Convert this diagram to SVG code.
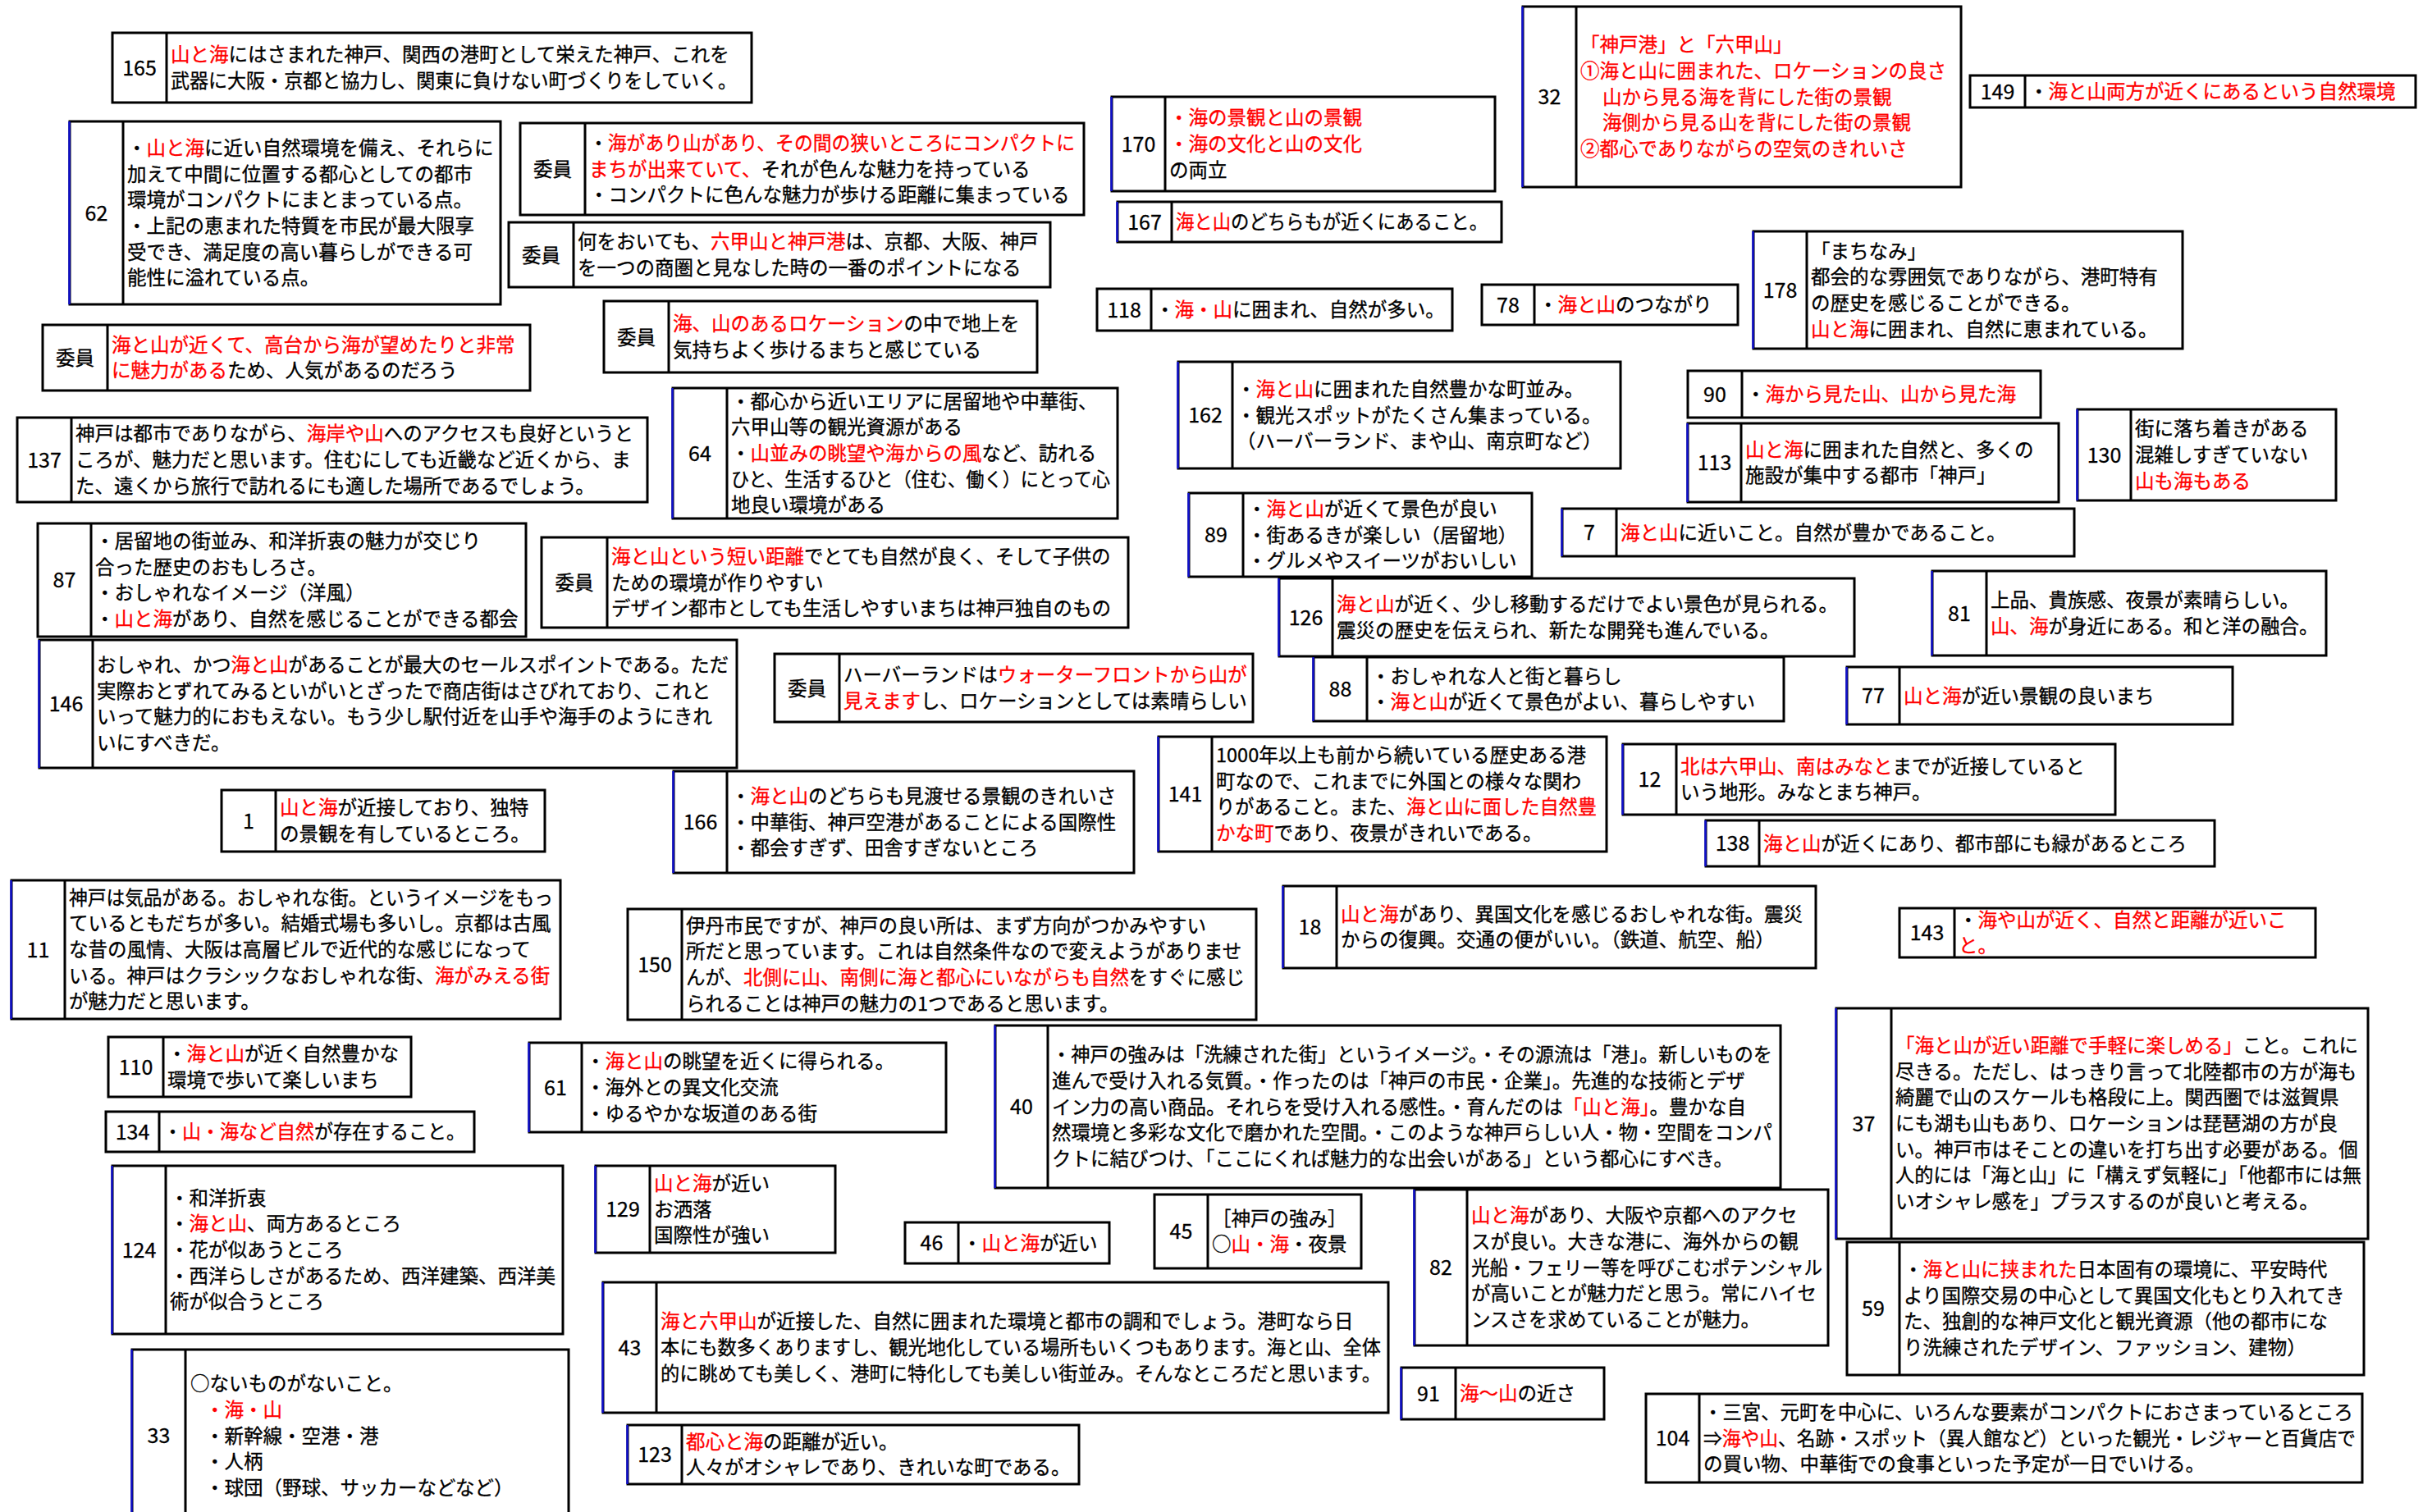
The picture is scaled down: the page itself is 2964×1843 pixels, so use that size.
<svg xmlns="http://www.w3.org/2000/svg" width="2964" height="1843" viewBox="0 0 2964 1843">
<style>
.bx{fill:#fff;stroke:#000;stroke-width:3}
.dv{stroke:#000;stroke-width:3}
.bl{stroke:#1010d0;stroke-width:2.5}
text{font-family:"Noto Sans CJK JP","Noto Sans CJK SC",sans-serif;font-size:23.5px;fill:#000;stroke:#000;stroke-width:0.3}
.n{font-size:25px;text-anchor:middle}
.r{fill:#ff0000;stroke:#ff0000}
</style>
<rect x="0" y="0" width="2964" height="1843" fill="#fff"/>
<g id="connectors"></g>

<g id="n165"><rect class="bx" x="137" y="40" width="779" height="85"/><line class="dv" x1="203" y1="40" x2="203" y2="125"/><text class="n" x="170" y="91.5">165</text>
<text x="208" y="75.2"><tspan class="r">山と海</tspan>にはさまれた神戸、関西の港町として栄えた神戸、これを</text>
<text x="208" y="106.9" textLength="690" lengthAdjust="spacingAndGlyphs">武器に大阪・京都と協力し、関東に負けない町づくりをしていく。</text></g>

<g id="n62"><rect class="bx" x="85" y="148" width="525" height="223"/><line class="dv" x1="150" y1="148" x2="150" y2="371"/><line class="bl" x1="84.5" y1="148" x2="84.5" y2="371"/><text class="n" x="117.5" y="268.5">62</text>
<text x="155" y="188.8">・<tspan class="r">山と海</tspan>に近い自然環境を備え、それらに</text>
<text x="155" y="220.5">加えて中間に位置する都心としての都市</text>
<text x="155" y="252.2">環境がコンパクトにまとまっている点。</text>
<text x="155" y="283.9">・上記の恵まれた特質を市民が最大限享</text>
<text x="155" y="315.6">受でき、満足度の高い暮らしができる可</text>
<text x="155" y="347.3">能性に溢れている点。</text></g>

<g id="iinB"><rect class="bx" x="634" y="150" width="687" height="112"/><line class="dv" x1="713" y1="150" x2="713" y2="262"/><text class="n" x="673.5" y="215" style="font-size:23.5px">委員</text>
<text x="718" y="182.8" textLength="592" lengthAdjust="spacingAndGlyphs">・<tspan class="r">海があり山があり、その間の狭いところにコンパクトに</tspan></text>
<text x="718" y="214.5"><tspan class="r">まちが出来ていて、</tspan>それが色んな魅力を持っている</text>
<text x="718" y="246.2">・コンパクトに色んな魅力が歩ける距離に集まっている</text></g>

<g id="iinC"><rect class="bx" x="620" y="271" width="660" height="79"/><line class="dv" x1="699" y1="271" x2="699" y2="350"/><text class="n" x="659.5" y="319.5" style="font-size:23.5px">委員</text>
<text x="704" y="303.2">何をおいても、<tspan class="r">六甲山と神戸港</tspan>は、京都、大阪、神戸</text>
<text x="704" y="334.9">を一つの商圏と見なした時の一番のポイントになる</text></g>

<g id="iinA"><rect class="bx" x="52" y="396" width="594" height="80"/><line class="dv" x1="131" y1="396" x2="131" y2="476"/><text class="n" x="91.5" y="445" style="font-size:23.5px">委員</text>
<text x="136" y="428.7"><tspan class="r">海と山が近くて、高台から海が望めたりと非常</tspan></text>
<text x="136" y="460.4"><tspan class="r">に魅力がある</tspan>ため、人気があるのだろう</text></g>

<g id="iinD"><rect class="bx" x="736" y="367" width="528" height="87"/><line class="dv" x1="815" y1="367" x2="815" y2="454"/><text class="n" x="775.5" y="419.5" style="font-size:23.5px">委員</text>
<text x="820" y="403.2"><tspan class="r">海、山のあるロケーション</tspan>の中で地上を</text>
<text x="820" y="434.9">気持ちよく歩けるまちと感じている</text></g>

<g id="n137"><rect class="bx" x="21" y="509" width="768" height="103"/><line class="dv" x1="87" y1="509" x2="87" y2="612"/><text class="n" x="54" y="569.5">137</text>
<text x="92" y="537.3">神戸は都市でありながら、<tspan class="r">海岸や山</tspan>へのアクセスも良好というと</text>
<text x="92" y="569">ころが、魅力だと思います。住むにしても近畿など近くから、ま</text>
<text x="92" y="600.7">た、遠くから旅行で訪れるにも適した場所であるでしょう。</text></g>

<g id="n170"><rect class="bx" x="1355" y="118" width="467" height="115"/><line class="dv" x1="1420" y1="118" x2="1420" y2="233"/><line class="bl" x1="1354.5" y1="118" x2="1354.5" y2="233"/><text class="n" x="1387.5" y="184.5">170</text>
<text x="1425" y="152.3"><tspan class="r">・海の景観と山の景観</tspan></text>
<text x="1425" y="184"><tspan class="r">・海の文化と山の文化</tspan></text>
<text x="1425" y="215.7">の両立</text></g>

<g id="n167"><rect class="bx" x="1362" y="246" width="468" height="49"/><line class="dv" x1="1428" y1="246" x2="1428" y2="295"/><line class="bl" x1="1361.5" y1="246" x2="1361.5" y2="295"/><text class="n" x="1395" y="279.5">167</text>
<text x="1433" y="279" textLength="380" lengthAdjust="spacingAndGlyphs"><tspan class="r">海と山</tspan>のどちらもが近くにあること。</text></g>

<g id="n118"><rect class="bx" x="1337" y="352" width="433" height="51"/><line class="dv" x1="1403" y1="352" x2="1403" y2="403"/><text class="n" x="1370" y="386.5">118</text>
<text x="1408" y="386">・<tspan class="r">海・山</tspan>に囲まれ、自然が多い。</text></g>

<g id="n32"><rect class="bx" x="1856" y="8" width="534" height="220"/><line class="dv" x1="1921" y1="8" x2="1921" y2="228"/><line class="bl" x1="1855.5" y1="8" x2="1855.5" y2="228"/><text class="n" x="1888.5" y="127">32</text>
<text x="1926" y="63.1" class="r">「神戸港」と「六甲山」</text>
<text x="1926" y="94.8" class="r">①海と山に囲まれた、ロケーションの良さ</text>
<text x="1953" y="126.5" class="r">山から見る海を背にした街の景観</text>
<text x="1953" y="158.2" class="r">海側から見る山を背にした街の景観</text>
<text x="1926" y="189.9" class="r">②都心でありながらの空気のきれいさ</text></g>

<g id="n149"><rect class="bx" x="2401" y="92" width="543" height="39"/><line class="dv" x1="2468" y1="92" x2="2468" y2="131"/><text class="n" x="2434.5" y="120.5">149</text>
<text x="2473" y="120">・<tspan class="r">海と山両方が近くにあるという自然環境</tspan></text></g>

<g id="n78"><rect class="bx" x="1806" y="347" width="312" height="49"/><line class="dv" x1="1870" y1="347" x2="1870" y2="396"/><text class="n" x="1838" y="380.5">78</text>
<text x="1875" y="380">・<tspan class="r">海と山</tspan>のつながり</text></g>

<g id="n178"><rect class="bx" x="2137" y="282" width="523" height="143"/><line class="dv" x1="2202" y1="282" x2="2202" y2="425"/><line class="bl" x1="2136.5" y1="282" x2="2136.5" y2="425"/><text class="n" x="2169.5" y="362.5">178</text>
<text x="2207" y="314.5">「まちなみ」</text>
<text x="2207" y="346.2">都会的な雰囲気でありながら、港町特有</text>
<text x="2207" y="377.9">の歴史を感じることができる。</text>
<text x="2207" y="409.6"><tspan class="r">山と海</tspan>に囲まれ、自然に恵まれている。</text></g>

<g id="n162"><rect class="bx" x="1436" y="441" width="539" height="130"/><line class="dv" x1="1502" y1="441" x2="1502" y2="571"/><line class="bl" x1="1435.5" y1="441" x2="1435.5" y2="571"/><text class="n" x="1469" y="515">162</text>
<text x="1507" y="482.8">・<tspan class="r">海と山</tspan>に囲まれた自然豊かな町並み。</text>
<text x="1507" y="514.5">・観光スポットがたくさん集まっている。</text>
<text x="1507" y="546.2">（ハーバーランド、まや山、南京町など）</text></g>

<g id="n90"><rect class="bx" x="2057" y="452" width="430" height="57"/><line class="dv" x1="2123" y1="452" x2="2123" y2="509"/><text class="n" x="2090" y="489.5">90</text>
<text x="2128" y="489">・<tspan class="r">海から見た山、山から見た海</tspan></text></g>

<g id="n113"><rect class="bx" x="2057" y="516" width="452" height="96"/><line class="dv" x1="2122" y1="516" x2="2122" y2="612"/><line class="bl" x1="2056.5" y1="516" x2="2056.5" y2="612"/><text class="n" x="2089.5" y="573">113</text>
<text x="2127" y="556.7"><tspan class="r">山と海</tspan>に囲まれた自然と、多くの</text>
<text x="2127" y="588.4">施設が集中する都市「神戸」</text></g>

<g id="n130"><rect class="bx" x="2532" y="499" width="315" height="111"/><line class="dv" x1="2597" y1="499" x2="2597" y2="610"/><line class="bl" x1="2531.5" y1="499" x2="2531.5" y2="610"/><text class="n" x="2564.5" y="563.5">130</text>
<text x="2602" y="531.3">街に落ち着きがある</text>
<text x="2602" y="563">混雑しすぎていない</text>
<text x="2602" y="594.7" class="r">山も海もある</text></g>

<g id="n64"><rect class="bx" x="820" y="473" width="542" height="159"/><line class="dv" x1="886" y1="473" x2="886" y2="632"/><line class="bl" x1="819.5" y1="473" x2="819.5" y2="632"/><text class="n" x="853" y="561.5">64</text>
<text x="891" y="497.6">・都心から近いエリアに居留地や中華街、</text>
<text x="891" y="529.3">六甲山等の観光資源がある</text>
<text x="891" y="561">・<tspan class="r">山並みの眺望や海からの風</tspan>など、訪れる</text>
<text x="891" y="592.7" textLength="462" lengthAdjust="spacingAndGlyphs">ひと、生活するひと（住む、働く）にとって心</text>
<text x="891" y="624.4">地良い環境がある</text></g>

<g id="n89"><rect class="bx" x="1449" y="601" width="418" height="102"/><line class="dv" x1="1515" y1="601" x2="1515" y2="703"/><line class="bl" x1="1448.5" y1="601" x2="1448.5" y2="703"/><text class="n" x="1482" y="661">89</text>
<text x="1520" y="628.8">・<tspan class="r">海と山</tspan>が近くて景色が良い</text>
<text x="1520" y="660.5">・街あるきが楽しい（居留地）</text>
<text x="1520" y="692.2">・グルメやスイーツがおいしい</text></g>

<g id="n7"><rect class="bx" x="1904" y="620" width="624" height="58"/><line class="dv" x1="1970" y1="620" x2="1970" y2="678"/><line class="bl" x1="1903.5" y1="620" x2="1903.5" y2="678"/><text class="n" x="1937" y="658">7</text>
<text x="1975" y="657.5"><tspan class="r">海と山</tspan>に近いこと。自然が豊かであること。</text></g>

<g id="n126"><rect class="bx" x="1559" y="705" width="701" height="95"/><line class="dv" x1="1624" y1="705" x2="1624" y2="800"/><line class="bl" x1="1558.5" y1="705" x2="1558.5" y2="800"/><text class="n" x="1591.5" y="761.5">126</text>
<text x="1629" y="745.2"><tspan class="r">海と山</tspan>が近く、少し移動するだけでよい景色が見られる。</text>
<text x="1629" y="776.9">震災の歴史を伝えられ、新たな開発も進んでいる。</text></g>

<g id="n81"><rect class="bx" x="2355" y="696" width="480" height="103"/><line class="dv" x1="2421" y1="696" x2="2421" y2="799"/><line class="bl" x1="2354.5" y1="696" x2="2354.5" y2="799"/><text class="n" x="2388" y="756.5">81</text>
<text x="2426" y="740.2">上品、貴族感、夜景が素晴らしい。</text>
<text x="2426" y="771.9"><tspan class="r">山、海</tspan>が身近にある。和と洋の融合。</text></g>

<g id="n88"><rect class="bx" x="1601" y="801" width="573" height="78"/><line class="dv" x1="1666" y1="801" x2="1666" y2="879"/><line class="bl" x1="1600.5" y1="801" x2="1600.5" y2="879"/><text class="n" x="1633.5" y="849">88</text>
<text x="1671" y="832.7">・おしゃれな人と街と暮らし</text>
<text x="1671" y="864.4">・<tspan class="r">海と山</tspan>が近くて景色がよい、暮らしやすい</text></g>

<g id="n77"><rect class="bx" x="2251" y="813" width="470" height="70"/><line class="dv" x1="2315" y1="813" x2="2315" y2="883"/><line class="bl" x1="2250.5" y1="813" x2="2250.5" y2="883"/><text class="n" x="2283" y="857">77</text>
<text x="2320" y="856.5"><tspan class="r">山と海</tspan>が近い景観の良いまち</text></g>

<g id="n87"><rect class="bx" x="46" y="638" width="595" height="138"/><line class="dv" x1="111" y1="638" x2="111" y2="776"/><text class="n" x="78.5" y="716">87</text>
<text x="116" y="668">・居留地の街並み、和洋折衷の魅力が交じり</text>
<text x="116" y="699.7">合った歴史のおもしろさ。</text>
<text x="116" y="731.4">・おしゃれなイメージ（洋風）</text>
<text x="116" y="763.1">・<tspan class="r">山と海</tspan>があり、自然を感じることができる都会</text></g>

<g id="iinF"><rect class="bx" x="660" y="655" width="715" height="110"/><line class="dv" x1="740" y1="655" x2="740" y2="765"/><text class="n" x="700" y="719" style="font-size:23.5px">委員</text>
<text x="745" y="686.8"><tspan class="r">海と山という短い距離</tspan>でとても自然が良く、そして子供の</text>
<text x="745" y="718.5">ための環境が作りやすい</text>
<text x="745" y="750.2">デザイン都市としても生活しやすいまちは神戸独自のもの</text></g>

<g id="n146"><rect class="bx" x="48" y="780" width="850" height="156"/><line class="dv" x1="113" y1="780" x2="113" y2="936"/><line class="bl" x1="47.5" y1="780" x2="47.5" y2="936"/><text class="n" x="80.5" y="867">146</text>
<text x="118" y="819" textLength="770" lengthAdjust="spacingAndGlyphs">おしゃれ、かつ<tspan class="r">海と山</tspan>があることが最大のセールスポイントである。ただ</text>
<text x="118" y="850.7">実際おとずれてみるといがいとざったで商店街はさびれており、これと</text>
<text x="118" y="882.4">いって魅力的におもえない。もう少し駅付近を山手や海手のようにきれ</text>
<text x="118" y="914.1">いにすべきだ。</text></g>

<g id="iinE"><rect class="bx" x="944" y="797" width="583" height="83"/><line class="dv" x1="1023" y1="797" x2="1023" y2="880"/><text class="n" x="983.5" y="847.5" style="font-size:23.5px">委員</text>
<text x="1028" y="831.2">ハーバーランドは<tspan class="r">ウォーターフロントから山が</tspan></text>
<text x="1028" y="862.9"><tspan class="r">見えます</tspan>し、ロケーションとしては素晴らしい</text></g>

<g id="n141"><rect class="bx" x="1412" y="898" width="546" height="140"/><line class="dv" x1="1477" y1="898" x2="1477" y2="1038"/><line class="bl" x1="1411.5" y1="898" x2="1411.5" y2="1038"/><text class="n" x="1444.5" y="977">141</text>
<text x="1482" y="929">1000年以上も前から続いている歴史ある港</text>
<text x="1482" y="960.7">町なので、これまでに外国との様々な関わ</text>
<text x="1482" y="992.4" textLength="464" lengthAdjust="spacingAndGlyphs">りがあること。また、<tspan class="r">海と山に面した自然豊</tspan></text>
<text x="1482" y="1024.1"><tspan class="r">かな町</tspan>であり、夜景がきれいである。</text></g>

<g id="n12"><rect class="bx" x="1978" y="907" width="600" height="86"/><line class="dv" x1="2043" y1="907" x2="2043" y2="993"/><line class="bl" x1="1977.5" y1="907" x2="1977.5" y2="993"/><text class="n" x="2010.5" y="959">12</text>
<text x="2048" y="942.7"><tspan class="r">北は六甲山、南はみなと</tspan>までが近接していると</text>
<text x="2048" y="974.4">いう地形。みなとまち神戸。</text></g>

<g id="n138"><rect class="bx" x="2079" y="1000" width="620" height="56"/><line class="dv" x1="2144" y1="1000" x2="2144" y2="1056"/><line class="bl" x1="2078.5" y1="1000" x2="2078.5" y2="1056"/><text class="n" x="2111.5" y="1037">138</text>
<text x="2149" y="1036.5"><tspan class="r">海と山</tspan>が近くにあり、都市部にも緑があるところ</text></g>

<g id="n1"><rect class="bx" x="270" y="963" width="394" height="75"/><line class="dv" x1="336" y1="963" x2="336" y2="1038"/><text class="n" x="303" y="1009.5">1</text>
<text x="341" y="993.2"><tspan class="r">山と海</tspan>が近接しており、独特</text>
<text x="341" y="1024.9">の景観を有しているところ。</text></g>

<g id="n166"><rect class="bx" x="821" y="940" width="561" height="124"/><line class="dv" x1="886" y1="940" x2="886" y2="1064"/><line class="bl" x1="820.5" y1="940" x2="820.5" y2="1064"/><text class="n" x="853.5" y="1011">166</text>
<text x="891" y="978.8">・<tspan class="r">海と山</tspan>のどちらも見渡せる景観のきれいさ</text>
<text x="891" y="1010.5">・中華街、神戸空港があることによる国際性</text>
<text x="891" y="1042.2">・都会すぎず、田舎すぎないところ</text></g>

<g id="n11"><rect class="bx" x="14" y="1073" width="669" height="169"/><line class="dv" x1="79" y1="1073" x2="79" y2="1242"/><line class="bl" x1="13.5" y1="1073" x2="13.5" y2="1242"/><text class="n" x="46.5" y="1166.5">11</text>
<text x="84" y="1102.6" textLength="590" lengthAdjust="spacingAndGlyphs">神戸は気品がある。おしゃれな街。というイメージをもっ</text>
<text x="84" y="1134.3">ているともだちが多い。結婚式場も多いし。京都は古風</text>
<text x="84" y="1166">な昔の風情、大阪は高層ビルで近代的な感じになって</text>
<text x="84" y="1197.7">いる。神戸はクラシックなおしゃれな街、<tspan class="r">海がみえる街</tspan></text>
<text x="84" y="1229.4">が魅力だと思います。</text></g>

<g id="n150"><rect class="bx" x="765" y="1108" width="766" height="135"/><line class="dv" x1="831" y1="1108" x2="831" y2="1243"/><text class="n" x="798" y="1184.5">150</text>
<text x="836" y="1136.5">伊丹市民ですが、神戸の良い所は、まず方向がつかみやすい</text>
<text x="836" y="1168.2">所だと思っています。これは自然条件なので変えようがありませ</text>
<text x="836" y="1199.9">んが、<tspan class="r">北側に山、南側に海と都心にいながらも自然</tspan>をすぐに感じ</text>
<text x="836" y="1231.6">られることは神戸の魅力の1つであると思います。</text></g>

<g id="n18"><rect class="bx" x="1564" y="1080" width="649" height="100"/><line class="dv" x1="1629" y1="1080" x2="1629" y2="1180"/><line class="bl" x1="1563.5" y1="1080" x2="1563.5" y2="1180"/><text class="n" x="1596.5" y="1139">18</text>
<text x="1634" y="1122.7"><tspan class="r">山と海</tspan>があり、異国文化を感じるおしゃれな街。震災</text>
<text x="1634" y="1154.4">からの復興。交通の便がいい。（鉄道、航空、船）</text></g>

<g id="n143"><rect class="bx" x="2315" y="1107" width="507" height="60"/><line class="dv" x1="2382" y1="1107" x2="2382" y2="1167"/><text class="n" x="2348.5" y="1146">143</text>
<text x="2387" y="1129.7">・<tspan class="r">海や山が近く、自然と距離が近いこ</tspan></text>
<text x="2387" y="1161.4"><tspan class="r">と。</tspan></text></g>

<g id="n110"><rect class="bx" x="132" y="1264" width="369" height="73"/><line class="dv" x1="199" y1="1264" x2="199" y2="1337"/><text class="n" x="165.5" y="1309.5">110</text>
<text x="204" y="1293.2">・<tspan class="r">海と山</tspan>が近く自然豊かな</text>
<text x="204" y="1324.9">環境で歩いて楽しいまち</text></g>

<g id="n134"><rect class="bx" x="129" y="1355" width="449" height="49"/><line class="dv" x1="194" y1="1355" x2="194" y2="1404"/><text class="n" x="161.5" y="1388.5">134</text>
<text x="199" y="1388" textLength="368" lengthAdjust="spacingAndGlyphs">・<tspan class="r">山・海など自然</tspan>が存在すること。</text></g>

<g id="n61"><rect class="bx" x="645" y="1271" width="508" height="109"/><line class="dv" x1="709" y1="1271" x2="709" y2="1380"/><line class="bl" x1="644.5" y1="1271" x2="644.5" y2="1380"/><text class="n" x="677" y="1334.5">61</text>
<text x="714" y="1302.3">・<tspan class="r">海と山</tspan>の眺望を近くに得られる。</text>
<text x="714" y="1334">・海外との異文化交流</text>
<text x="714" y="1365.7">・ゆるやかな坂道のある街</text></g>

<g id="n40"><rect class="bx" x="1213" y="1250" width="957" height="198"/><line class="dv" x1="1277" y1="1250" x2="1277" y2="1448"/><line class="bl" x1="1212.5" y1="1250" x2="1212.5" y2="1448"/><text class="n" x="1245" y="1358">40</text>
<text x="1282" y="1294.1" textLength="878" lengthAdjust="spacingAndGlyphs">・神戸の強みは「洗練された街」というイメージ。・その源流は「港」。新しいものを</text>
<text x="1282" y="1325.8">進んで受け入れる気質。・作ったのは「神戸の市民・企業」。先進的な技術とデザ</text>
<text x="1282" y="1357.5">イン力の高い商品。それらを受け入れる感性。・育んだのは<tspan class="r">「山と海」</tspan>。豊かな自</text>
<text x="1282" y="1389.2" textLength="878" lengthAdjust="spacingAndGlyphs">然環境と多彩な文化で磨かれた空間。・このような神戸らしい人・物・空間をコンパ</text>
<text x="1282" y="1420.9">クトに結びつけ、「ここにくれば魅力的な出会いがある」という都心にすべき。</text></g>

<g id="n37"><rect class="bx" x="2238" y="1229" width="648" height="281"/><line class="dv" x1="2305" y1="1229" x2="2305" y2="1510"/><line class="bl" x1="2237.5" y1="1229" x2="2237.5" y2="1510"/><text class="n" x="2271.5" y="1378.5">37</text>
<text x="2310" y="1282.9"><tspan class="r">「海と山が近い距離で手軽に楽しめる」</tspan>こと。これに</text>
<text x="2310" y="1314.6">尽きる。ただし、はっきり言って北陸都市の方が海も</text>
<text x="2310" y="1346.3">綺麗で山のスケールも格段に上。関西圏では滋賀県</text>
<text x="2310" y="1378">にも湖も山もあり、ロケーションは琵琶湖の方が良</text>
<text x="2310" y="1409.7">い。神戸市はそことの違いを打ち出す必要がある。個</text>
<text x="2310" y="1441.4" textLength="568" lengthAdjust="spacingAndGlyphs">人的には「海と山」に「構えず気軽に」「他都市には無</text>
<text x="2310" y="1473.1">いオシャレ感を」プラスするのが良いと考える。</text></g>

<g id="n124"><rect class="bx" x="137" y="1421" width="549" height="205"/><line class="dv" x1="202" y1="1421" x2="202" y2="1626"/><line class="bl" x1="136.5" y1="1421" x2="136.5" y2="1626"/><text class="n" x="169.5" y="1532.5">124</text>
<text x="207" y="1468.6">・和洋折衷</text>
<text x="207" y="1500.3">・<tspan class="r">海と山</tspan>、両方あるところ</text>
<text x="207" y="1532">・花が似あうところ</text>
<text x="207" y="1563.7">・西洋らしさがあるため、西洋建築、西洋美</text>
<text x="207" y="1595.4">術が似合うところ</text></g>

<g id="n129"><rect class="bx" x="726" y="1421" width="292" height="106"/><line class="dv" x1="792" y1="1421" x2="792" y2="1527"/><line class="bl" x1="725.5" y1="1421" x2="725.5" y2="1527"/><text class="n" x="759" y="1483">129</text>
<text x="797" y="1450.8"><tspan class="r">山と海</tspan>が近い</text>
<text x="797" y="1482.5">お洒落</text>
<text x="797" y="1514.2">国際性が強い</text></g>

<g id="n46"><rect class="bx" x="1103" y="1490" width="249" height="50"/><line class="dv" x1="1168" y1="1490" x2="1168" y2="1540"/><text class="n" x="1135.5" y="1524">46</text>
<text x="1173" y="1523.5">・<tspan class="r">山と海</tspan>が近い</text></g>

<g id="n45"><rect class="bx" x="1407" y="1456" width="252" height="90"/><line class="dv" x1="1472" y1="1456" x2="1472" y2="1546"/><text class="n" x="1439.5" y="1510">45</text>
<text x="1477" y="1493.7">［神戸の強み］</text>
<text x="1477" y="1525.4">○<tspan class="r">山・海</tspan>・夜景</text></g>

<g id="n82"><rect class="bx" x="1724" y="1450" width="504" height="190"/><line class="dv" x1="1788" y1="1450" x2="1788" y2="1640"/><line class="bl" x1="1723.5" y1="1450" x2="1723.5" y2="1640"/><text class="n" x="1756" y="1554">82</text>
<text x="1793" y="1490.1"><tspan class="r">山と海</tspan>があり、大阪や京都へのアクセ</text>
<text x="1793" y="1521.8">スが良い。大きな港に、海外からの観</text>
<text x="1793" y="1553.5" textLength="428" lengthAdjust="spacingAndGlyphs">光船・フェリー等を呼びこむポテンシャル</text>
<text x="1793" y="1585.2">が高いことが魅力だと思う。常にハイセ</text>
<text x="1793" y="1616.9">ンスさを求めていることが魅力。</text></g>

<g id="n59"><rect class="bx" x="2251" y="1514" width="630" height="162"/><line class="dv" x1="2315" y1="1514" x2="2315" y2="1676"/><text class="n" x="2283" y="1604">59</text>
<text x="2320" y="1556">・<tspan class="r">海と山に挟まれた</tspan>日本固有の環境に、平安時代</text>
<text x="2320" y="1587.7">より国際交易の中心として異国文化もとり入れてき</text>
<text x="2320" y="1619.4">た、独創的な神戸文化と観光資源（他の都市にな</text>
<text x="2320" y="1651.1">り洗練されたデザイン、ファッション、建物）</text></g>

<g id="n43"><rect class="bx" x="735" y="1563" width="957" height="159"/><line class="dv" x1="800" y1="1563" x2="800" y2="1722"/><line class="bl" x1="734.5" y1="1563" x2="734.5" y2="1722"/><text class="n" x="767.5" y="1651.5">43</text>
<text x="805" y="1619.3"><tspan class="r">海と六甲山</tspan>が近接した、自然に囲まれた環境と都市の調和でしょう。港町なら日</text>
<text x="805" y="1651" textLength="878" lengthAdjust="spacingAndGlyphs">本にも数多くありますし、観光地化している場所もいくつもあります。海と山、全体</text>
<text x="805" y="1682.7" textLength="878" lengthAdjust="spacingAndGlyphs">的に眺めても美しく、港町に特化しても美しい街並み。そんなところだと思います。</text></g>

<g id="n91"><rect class="bx" x="1708" y="1667" width="247" height="63"/><line class="dv" x1="1774" y1="1667" x2="1774" y2="1730"/><line class="bl" x1="1707.5" y1="1667" x2="1707.5" y2="1730"/><text class="n" x="1741" y="1707.5">91</text>
<text x="1779" y="1707"><tspan class="r">海～山</tspan>の近さ</text></g>

<g id="n33"><rect class="bx" x="161" y="1645" width="532" height="215"/><line class="dv" x1="226" y1="1645" x2="226" y2="1860"/><line class="bl" x1="160.5" y1="1645" x2="160.5" y2="1860"/><text class="n" x="193.5" y="1759">33</text>
<text x="232" y="1695.1">○ないものがないこと。</text>
<text x="250" y="1726.8" class="r">・海・山</text>
<text x="250" y="1758.5">・新幹線・空港・港</text>
<text x="250" y="1790.2">・人柄</text>
<text x="250" y="1821.9">・球団（野球、サッカーなどなど）</text></g>

<g id="n123"><rect class="bx" x="765" y="1737" width="550" height="72"/><line class="dv" x1="831" y1="1737" x2="831" y2="1809"/><line class="bl" x1="764.5" y1="1737" x2="764.5" y2="1809"/><text class="n" x="798" y="1782">123</text>
<text x="836" y="1765.7"><tspan class="r">都心と海</tspan>の距離が近い。</text>
<text x="836" y="1797.4">人々がオシャレであり、きれいな町である。</text></g>

<g id="n104"><rect class="bx" x="2006" y="1699" width="873" height="108"/><line class="dv" x1="2071" y1="1699" x2="2071" y2="1807"/><text class="n" x="2038.5" y="1762">104</text>
<text x="2076" y="1729.8" textLength="792" lengthAdjust="spacingAndGlyphs">・三宮、元町を中心に、いろんな要素がコンパクトにおさまっているところ</text>
<text x="2076" y="1761.5" textLength="795" lengthAdjust="spacingAndGlyphs">⇒<tspan class="r">海や山</tspan>、名跡・スポット（異人館など）といった観光・レジャーと百貨店で</text>
<text x="2076" y="1793.2">の買い物、中華街での食事といった予定が一日でいける。</text></g>
</svg>
